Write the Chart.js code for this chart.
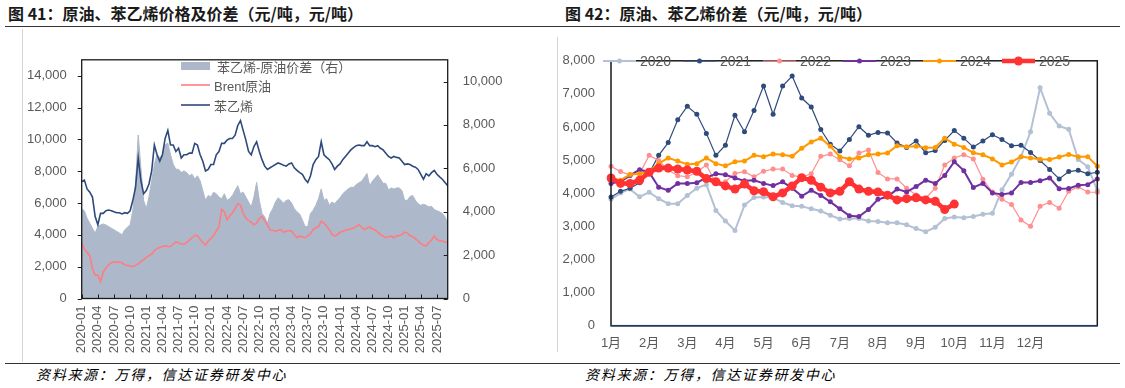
<!DOCTYPE html>
<html>
<head>
<meta charset="utf-8">
<script src="https://cdn.jsdelivr.net/npm/chart.js@4.4.1/dist/chart.umd.min.js"></script>
<style>
  body { margin: 0; width: 1125px; height: 388px; background: #fff; position: relative; overflow: hidden;
         font-family: "Liberation Sans", "Noto Sans CJK SC", sans-serif; }
  .title { position: absolute; top: 2px; line-height: 22px; font-family: "Noto Sans CJK SC"; font-size: 16px;
           font-weight: bold; color: #1a1a1a; white-space: nowrap; }
  .rule { position: absolute; left: 5px; width: 1115px; height: 0; border-top: 1.5px solid #333; }
  .src { position: absolute; top: 365px; line-height: 18px; font-family: "Noto Sans CJK SC"; font-style: italic;
         font-size: 14px; letter-spacing: 1.7px; color: #000; white-space: nowrap; }
  .vline { position: absolute; width: 0; border-left: 1px solid #d4d4d4; }
  .box { position: absolute; }
  .leg { position: absolute; display: flex; align-items: center; color: #595959; white-space: nowrap; }
  .leg svg { margin-right: 4px; flex: none; }
</style>
</head>
<body>
<div class="title" style="left:8px">图 41：原油、苯乙烯价格及价差（元/吨，元/吨）</div>
<div class="title" style="left:565px">图 42：原油、苯乙烯价差（元/吨，元/吨）</div>
<div class="rule" style="top:26px"></div>
<div class="rule" style="top:363px"></div>
<div class="vline" style="left:22px;top:29px;height:333px"></div>
<div class="vline" style="left:557px;top:37px;height:315px"></div>

<div class="box" style="left:22px;top:37px"><canvas id="c1" width="500" height="322"></canvas></div>
<div class="box" style="left:557px;top:37px"><canvas id="c2" width="558" height="322"></canvas></div>

<!-- legend, left chart -->
<div class="leg" style="left:181px;top:58px;height:16px;font-size:13px">
  <svg width="29" height="8"><rect x="0" y="0" width="29" height="8" fill="#ADB9CA"/></svg><span style="margin-left:3px">苯乙烯-原油价差（右）</span>
</div>
<div class="leg" style="left:181px;top:77px;height:16px;font-size:13px">
  <svg width="29" height="4"><line x1="0" y1="2" x2="29" y2="2" stroke="#FF7C80" stroke-width="1.6"/></svg>Brent原油
</div>
<div class="leg" style="left:181px;top:97px;height:16px;font-size:13px">
  <svg width="29" height="4"><line x1="0" y1="2" x2="29" y2="2" stroke="#2E4A7D" stroke-width="1.6"/></svg>苯乙烯
</div>

<!-- legend, right chart -->
<div id="leg2"></div>

<div class="src" style="left:36px">资料来源：万得，信达证券研发中心</div>
<div class="src" style="left:585px">资料来源：万得，信达证券研发中心</div>

<script>
// ---------- 图41: semi-monthly points, 2020-01 .. 2025-09 ----------
const startYear = 2020;
const halfMonths = 137;
const leftTicks = [0, 2000, 4000, 6000, 8000, 10000, 12000, 14000];
const rightTicks = [0, 2000, 4000, 6000, 8000, 10000];

// 苯乙烯 (元/吨, left axis)
const styrene = [
  7356, 7438, 6886, 6682, 6375, 5148, 4637, 5352, 5352, 5516, 5557, 5516, 5454, 5393, 5393, 5311,
  5393, 5352, 5516, 6170, 6988, 8829, 7398, 6580, 6784, 7193, 8011, 9647, 9033, 8624, 9033, 10055,
  10566, 9647, 9647, 9238, 9442, 8829, 9033, 9033, 9135, 9135, 9749, 9647, 9033, 8624, 8011, 8113,
  8420, 8420, 9033, 9238, 9749, 9749, 9953, 10055, 10055, 10260, 10873, 11180, 10566, 9953, 9238, 9033,
  9544, 9851, 9238, 8726, 8317, 8110, 8213, 8315, 8417, 8520, 8458, 8376, 8315, 8458, 8520, 8213,
  8049, 7906, 7804, 7497, 7292, 7702, 8417, 8724, 8929, 9850, 9032, 8868, 8724, 8458, 8110, 8315,
  8458, 8724, 8929, 9134, 9339, 9482, 9605, 9646, 9605, 9605, 9850, 9605, 9605, 9543, 9605, 9441,
  9339, 9134, 8929, 8827, 8929, 8868, 8827, 8622, 8417, 8458, 8417, 8315, 8253, 8110, 7804, 7497,
  7845, 7702, 7906, 8049, 7804, 7641, 7497, 7292, 7088
];

// Brent原油 (元/吨, left axis)
const brent = [
  3470, 3102, 2898, 2693, 1875, 1466, 1466, 1057, 1670, 1915, 2120, 2242, 2283, 2283, 2283, 2242,
  2120, 2079, 2038, 1997, 2079, 2181, 2324, 2447, 2590, 2693, 2795, 3000, 3143, 3204, 3266, 3307,
  3266, 3266, 3409, 3552, 3511, 3409, 3409, 3511, 3675, 3818, 3961, 3961, 3716, 3511, 3347, 3613,
  3757, 3961, 4227, 4493, 5600, 5455, 4943, 5189, 5393, 5659, 5965, 5862, 5352, 5045, 4902, 4780,
  4637, 4739, 5045, 5148, 4902, 4637, 4288, 4288, 4227, 4288, 4329, 4166, 4227, 4268, 4227, 4023,
  3818, 3920, 3879, 3818, 3920, 4084, 4329, 4432, 4534, 4841, 4739, 4534, 4329, 4023, 3920, 4023,
  4166, 4227, 4288, 4329, 4370, 4432, 4534, 4637, 4493, 4329, 4432, 4493, 4370, 4329, 4166, 4023,
  3920, 3818, 3879, 3920, 3818, 3920, 3961, 4023, 4166, 4125, 3961, 3879, 3757, 3613, 3470, 3347,
  3307, 3511, 3675, 3920, 3716, 3613, 3613, 3552, 3511
];

// 苯乙烯-原油价差 (元/吨, right axis)
const spread = [
  4143, 4040, 3693, 3467, 3240, 3014, 3316, 3391, 3436, 3391, 3316, 3240, 3165, 3089, 3014, 2939,
  3165, 3285, 3391, 4070, 5276, 7538, 6030, 4522, 4143, 4675, 5428, 6182, 6635, 6484, 6635, 7087,
  7163, 6635, 6182, 5956, 5956, 5805, 5881, 5805, 5654, 5730, 5503, 5654, 5428, 4975, 4522, 4748,
  4675, 4899, 4826, 4675, 4600, 4826, 4522, 4600, 4748, 4975, 5201, 4826, 4899, 4675, 4446, 4220,
  4675, 5352, 4522, 3919, 3768, 3467, 3919, 4143, 4446, 4640, 4522, 4400, 4522, 4550, 4400, 4143,
  3995, 3889, 3618, 3316, 3316, 3919, 4070, 4296, 4600, 5050, 4522, 4600, 4296, 4446, 4370, 4522,
  4640, 4824, 4945, 5050, 5126, 5126, 5247, 5337, 5398, 5579, 5760, 5201, 5398, 5548, 5699, 5503,
  5307, 5307, 5005, 5096, 5050, 5096, 5096, 4975, 4522, 4522, 4703, 4748, 4522, 4370, 4296, 4341,
  4296, 4220, 4250, 4100, 4040, 3995, 3919, 3768, 3467
];

// ---------- 图42: weekly, one line per year ----------
const months = ['1月', '2月', '3月', '4月', '5月', '6月', '7月', '8月', '9月', '10月', '11月', '12月'];
const weeks = 52;

const y2020 = [3817, 4010, 4125, 3894, 4029, 3837, 3683, 3683, 3933, 4154, 4260, 3481, 3163, 2875, 3644, 3875,
  3885, 3865, 3721, 3625, 3606, 3529, 3462, 3337, 3221, 3240, 3240, 3163, 3144, 3106, 3106, 3048,
  2933, 2837, 2971, 3240, 3279, 3260, 3298, 3365, 3394, 4106, 4577, 5106, 5856, 7183, 6413, 6029,
  5933, 5019, 4798, 4087];
const y2021 = [3885, 4058, 4150, 4317, 4600, 5144, 5529, 6221, 6625, 6385, 5808, 5144, 5452, 6356, 5856, 6500,
  7240, 6385, 7240, 7538, 6875, 6606, 5923, 5481, 5279, 5625, 6010, 5750, 5837, 5817, 5519, 5385,
  5577, 5221, 5288, 5596, 5894, 5664, 5394, 5577, 5769, 5625, 5433, 5452, 5231, 4990, 4721, 4433,
  4654, 4692, 4587, 4635];
const y2022 = [4817, 4654, 4558, 4587, 5144, 4990, 4700, 4529, 4500, 4635, 4856, 4300, 4350, 4600, 4650, 4500,
  4664, 4731, 4731, 4538, 4490, 4587, 5115, 5183, 5010, 4827, 5212, 5308, 4625, 4433, 4433, 4150,
  3950, 3850, 4154, 4856, 5067, 5163, 5038, 4423, 4038, 3817, 3663, 3192, 3000, 3606, 3721, 3548,
  4058, 4192, 4038, 4029];
const y2023 = [4298, 4346, 4538, 4712, 4635, 4183, 4087, 4298, 4298, 4317, 4471, 4587, 4558, 4462, 4375, 4394,
  4298, 4231, 4346, 4154, 3913, 4087, 3933, 3740, 3529, 3317, 3298, 3510, 3817, 3894, 4125, 4038,
  4202, 4394, 4298, 4538, 4952, 4683, 4173, 4298, 4010, 3962, 4010, 4327, 4327, 4375, 4462, 4135,
  4144, 4240, 4260, 4433];
const y2024 = [4450, 4394, 4567, 4587, 4654, 4894, 5067, 4971, 4875, 4894, 5067, 4894, 4827, 4952, 4971, 5144,
  5106, 5183, 5163, 5115, 5356, 5548, 5664, 5423, 5096, 5038, 5067, 5163, 5183, 5212, 5433, 5404,
  5423, 5375, 5385, 5664, 5481, 5385, 5221, 5163, 5038, 4856, 4942, 5106, 5067, 5029, 5019, 5096,
  5173, 5106, 5106, 4817];
const y2025 = [4462, 4298, 4298, 4394, 4635, 4760, 4760, 4731, 4702, 4663, 4442, 4346, 4221, 4125, 4279, 4077,
  4048, 3894, 4010, 4221, 4471, 4394, 4183, 4010, 4058, 4346, 4125, 4058, 4038, 3942, 3798, 3837,
  3865, 3798, 3760, 3510, 3673];

const yearSeries = [
  { label: '2020', data: y2020, color: '#B4C1D4', width: 2,   radius: 2.5 },
  { label: '2021', data: y2021, color: '#2F4B7C', width: 1.2, radius: 2.5 },
  { label: '2022', data: y2022, color: '#FF8F8F', width: 1.2, radius: 2.5 },
  { label: '2023', data: y2023, color: '#7030A0', width: 2,   radius: 2.5 },
  { label: '2024', data: y2024, color: '#FF9900', width: 2,   radius: 2.5 },
  { label: '2025', data: y2025, color: '#FF3333', width: 4.5, radius: 4.5 }
];
const legendX = [603, 683, 763, 843, 923, 1002];

// labels
const dateLabels = [];
for (let k = 0; k < halfMonths; k++) {
  const mi = Math.floor(k / 2);
  const y = startYear + Math.floor(mi / 12);
  const m = mi % 12 + 1;
  dateLabels.push(y + '-' + String(m).padStart(2, '0'));
}
const weekLabels = [];
for (let i = 0; i < weeks; i++) weekLabels.push(i % 4 === 0 && months[i / 4] ? months[i / 4] : '');

const FONT = '"Liberation Sans", "Noto Sans CJK SC", sans-serif';
const GREY = '#595959';
const noGrid = { display: false, drawTicks: false };

// plot-area box and small tick marks
const framePlugin = {
  id: 'frame',
  afterDatasetsDraw(chart, args, opts) {
    const { ctx, chartArea: a } = chart;
    ctx.save();
    ctx.strokeStyle = opts.color;
    ctx.lineWidth = opts.width;
    ctx.strokeRect(a.left, a.top, a.right - a.left, a.bottom - a.top);
    if (opts.bottomColor) {
      ctx.strokeStyle = opts.bottomColor;
      ctx.beginPath(); ctx.moveTo(a.left, a.bottom); ctx.lineTo(a.right, a.bottom); ctx.stroke();
    }
    ctx.strokeStyle = opts.color;
    ctx.lineWidth = 1;
    (opts.ticks || []).forEach(t => {
      const s = chart.scales[t.axis];
      s.ticks.forEach((tk, i) => {
        if (t.every && i % t.every) return;
        const p = Math.round(s.getPixelForTick(i)) + 0.5;
        ctx.beginPath();
        if (s.isHorizontal()) {
          ctx.moveTo(p, a.bottom); ctx.lineTo(p, a.bottom + t.dir * t.len);
        } else {
          const x = s.position === 'left' ? a.left : a.right;
          ctx.moveTo(x, p); ctx.lineTo(x + t.dir * t.len, p);
        }
        ctx.stroke();
      });
    });
    ctx.restore();
  }
};

const numFmt = v => v.toLocaleString('en-US');

new Chart(document.getElementById('c1'), {
  type: 'line',
  data: {
    labels: dateLabels,
    datasets: [
      { label: '苯乙烯', data: styrene, yAxisID: 'y', borderColor: '#2E4A7D', borderWidth: 1.6, pointRadius: 0, order: 1 },
      { label: 'Brent原油', data: brent, yAxisID: 'y', borderColor: '#FF7C80', borderWidth: 1.6, pointRadius: 0, order: 2 },
      { label: '苯乙烯-原油价差（右）', data: spread, yAxisID: 'y1', borderColor: '#ADB9CA', borderWidth: 1,
        backgroundColor: '#ADB9CA', fill: 'origin', pointRadius: 0, order: 3 }
    ]
  },
  options: {
    animation: false,
    responsive: false,
    layout: { padding: { top: 17.7, left: 0, right: 0, bottom: 0 } },
    plugins: {
      legend: { display: false },
      tooltip: { enabled: false },
      frame: { color: '#1a1a1a', width: 1.3,
        ticks: [{ axis: 'y', dir: -1, len: 4 }, { axis: 'y1', dir: -1, len: 4 }, { axis: 'x', dir: -1, len: 4, every: 6 }] }
    },
    scales: {
      x: {
        grid: noGrid, border: { display: false },
        ticks: { autoSkip: false, maxRotation: 90, minRotation: 90, padding: 7, color: GREY,
          font: { size: 13, family: FONT },
          callback: (v, i) => (i % 6 === 0 ? dateLabels[i] : '') },
        afterFit: s => { s.height = 60.5; }
      },
      y: {
        position: 'left', min: 0, max: 15000,
        grid: noGrid, border: { display: false },
        ticks: { padding: 15, color: GREY, font: { size: 13, family: FONT }, callback: numFmt },
        afterBuildTicks: s => { s.ticks = leftTicks.map(v => ({ value: v })); },
        afterFit: s => { s.width = 59.7; }
      },
      y1: {
        position: 'right', min: 0, max: 11000,
        grid: noGrid, border: { display: false },
        ticks: { padding: 15, color: GREY, font: { size: 13, family: FONT }, callback: numFmt },
        afterBuildTicks: s => { s.ticks = rightTicks.map(v => ({ value: v })); },
        afterFit: s => { s.width = 74.3; }
      }
    }
  },
  plugins: [framePlugin]
});

new Chart(document.getElementById('c2'), {
  type: 'line',
  data: {
    labels: weekLabels,
    datasets: yearSeries.map((s, i) => ({
      label: s.label, data: s.data, borderColor: s.color, backgroundColor: s.color,
      borderWidth: s.width, pointRadius: s.radius, pointBorderWidth: 0, pointBackgroundColor: s.color,
      order: yearSeries.length - i
    }))
  },
  options: {
    animation: false,
    responsive: false,
    layout: { padding: { top: 11, left: 0, right: 17.7, bottom: 0 } },
    plugins: {
      legend: { display: false },
      tooltip: { enabled: false },
      frame: { color: '#1a1a1a', width: 1.5, bottomColor: '#1F3864' }
    },
    scales: {
      x: {
        grid: noGrid, border: { display: false },
        ticks: { autoSkip: false, maxRotation: 0, padding: 10, color: GREY, font: { size: 13, family: FONT } },
        afterFit: s => { s.height = 33.3; }
      },
      y: {
        min: 0, max: 8000,
        grid: noGrid, border: { display: false },
        ticks: { stepSize: 1000, padding: 16, color: GREY, font: { size: 13, family: FONT }, callback: numFmt },
        afterFit: s => { s.width = 54; }
      }
    }
  },
  plugins: [framePlugin]
});

// legend for 图42
const leg2 = document.getElementById('leg2');
yearSeries.forEach((s, i) => {
  const d = document.createElement('div');
  d.className = 'leg';
  d.style.cssText = 'left:' + legendX[i] + 'px;top:51px;height:20px;font-size:14px';
  d.innerHTML = '<svg width="33" height="12"><line x1="0" y1="6" x2="33" y2="6" stroke="' + s.color +
    '" stroke-width="' + s.width + '"/><circle cx="16.5" cy="6" r="' + s.radius + '" fill="' + s.color + '"/></svg>' + s.label;
  leg2.appendChild(d);
});
</script>
</body>
</html>
